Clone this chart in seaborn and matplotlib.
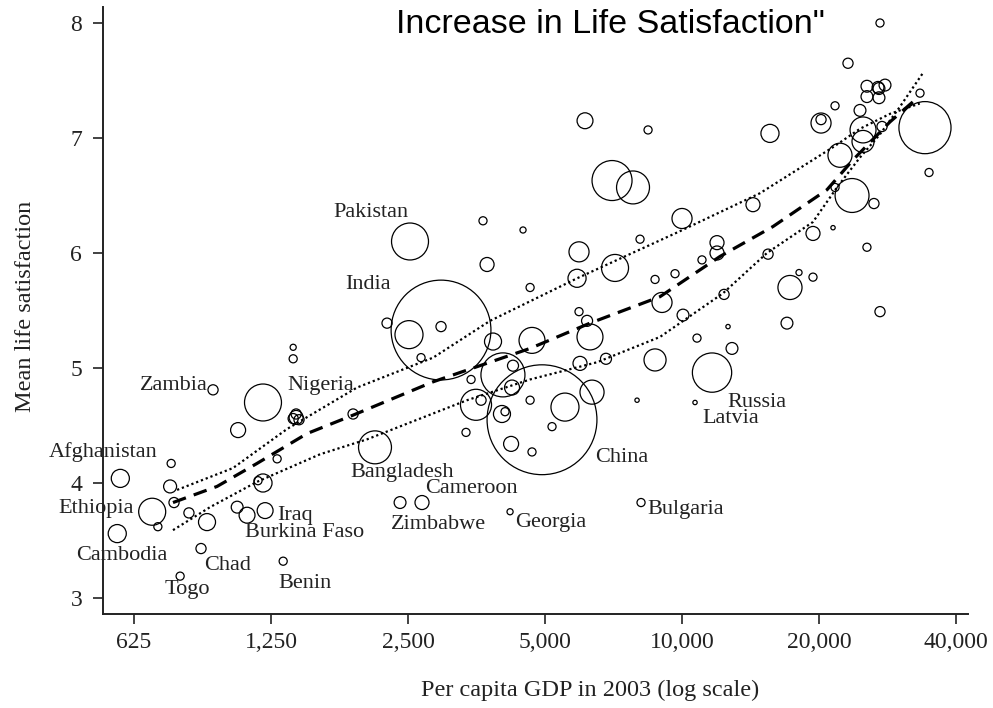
import matplotlib
matplotlib.use("Agg")
import matplotlib.pyplot as plt
import pandas as pd
import seaborn as sns

# 各国气泡：人均GDP(2003)、平均生活满意度、人口(百万)
gdp = [754, 583, 685, 705, 574, 750, 765, 825, 904, 877, 789, 1058, 1200, 932,
       1398, 1398, 1419, 1398, 1440, 1419, 1053, 1107, 1213, 1200, 1170, 1289,
       1329, 1893, 2115, 2401, 2683, 3352, 3617, 3439,
       2525, 3653, 4473, 3729, 5938, 4636, 2954, 2248, 2512, 2954, 2670, 3843,
       4041, 4252, 4231, 3526, 4021, 4084, 4636, 4924, 5531, 5180, 4211, 4681,
       6342, 7965, 4681, 6277, 6185, 5938, 5968, 6806, 7125, 5879, 8086, 8724,
       8724, 6121, 8421, 7018, 7804, 10000, 14320, 15606, 20206, 20206, 21690,
       25490, 26960, 27930, 25490, 27090, 27090, 24610, 24990, 24990, 27510,
       22240, 23640, 26410, 34190, 33340, 34900, 27230, 23160, 21470, 25490,
       19400, 15454, 11937, 11937, 11063, 9652, 9037, 10050, 12370, 17268, 18075,
       19400, 27230, 17006, 12621, 12877, 10787, 11640, 10680, 8127, 4189, 21690]
satisfaction = [4.17, 4.04, 3.75, 3.62, 3.56, 3.97, 3.83, 3.74, 3.66, 3.43, 3.19,
                4.46, 4.70, 4.81, 5.08, 5.18, 4.57, 4.56, 4.55, 4.60, 3.79, 3.72,
                3.76, 4.00, 4.02, 4.21, 3.32, 4.60, 4.31, 3.83, 3.83, 4.44, 4.72,
                4.90,
                6.10, 6.28, 6.20, 5.90, 6.01, 5.70, 5.33, 5.39, 5.29, 5.36, 5.09,
                5.23, 4.94, 5.02, 4.83, 4.68, 4.60, 4.62, 4.72, 4.55, 4.66, 4.49,
                4.34, 4.27, 4.79, 4.72, 5.24, 5.27, 5.41, 5.49, 5.04, 5.08, 5.87,
                5.78, 6.12, 5.77, 5.07, 7.15, 7.07, 6.63, 6.57, 6.30, 6.42, 7.04,
                7.13, 7.16, 7.28, 7.45, 7.44, 7.46, 7.36, 7.35, 7.43, 7.24, 7.07,
                6.97, 7.10, 6.85, 6.50, 6.43, 7.09, 7.39, 6.70, 8.00, 7.65, 6.22,
                6.05, 6.17, 5.99, 6.09, 6.00, 5.94, 5.82, 5.57, 5.46, 5.64, 5.70,
                5.83, 5.79, 5.49, 5.39, 5.36, 5.17, 5.26, 4.96, 4.70, 3.83, 3.75,
                6.57]
population = [7, 35, 78, 7, 35, 18, 11, 11, 31, 11, 7, 24, 146, 11,
              7, 4, 21, 11, 11, 11, 15, 27, 27, 35, 7, 7,
              7, 11, 116, 15, 21, 7, 11, 7,
              146, 7, 4, 21, 43, 7, 1065, 11, 84, 11, 7, 31,
              207, 13, 24, 103, 31, 7, 7, 1290, 84, 7, 24, 7,
              62, 2, 72, 72, 13, 7, 21, 13, 78, 35, 7, 7,
              52, 27, 7, 171, 116, 43, 21, 35, 43, 11, 7,
              15, 15, 15, 15, 15, 15, 15, 72, 52, 11,
              62, 123, 11, 290, 7, 7, 7, 11, 2, 7,
              21, 11, 21, 21, 7, 7, 43, 15, 11, 62, 4,
              7, 11, 15, 2, 15, 7, 165, 2, 7, 4, 7]

# 拟合曲线（虚线）与上下置信带（点线）
fit_gdp = [761, 951, 1164, 1500, 1893, 2838, 4633, 6277, 8945, 12120, 15845,
           20825, 23760, 28640, 32500]
fit_mean = [3.83, 3.97, 4.17, 4.43, 4.59, 4.88, 5.17, 5.39, 5.62, 5.97, 6.23,
            6.55, 6.81, 7.14, 7.33]
lower_gdp = [761, 918, 1164, 1602, 2033, 3370, 4633, 6506, 8945, 12306, 15370,
             19400, 21900, 24600, 27200, 30100, 33900]
lower_band = [3.59, 3.79, 4.01, 4.25, 4.38, 4.72, 4.90, 5.05, 5.27, 5.65, 6.00,
              6.27, 6.57, 6.83, 7.03, 7.27, 7.57]
upper_gdp = [777, 1031, 1356, 1931, 2838, 3786, 5880, 8945, 9900, 14840, 21470,
             24600, 28640, 33300]
upper_band = [3.94, 4.13, 4.47, 4.83, 5.09, 5.41, 5.78, 6.11, 6.19, 6.52, 6.92,
              7.08, 7.21, 7.30]

label_names = ["Pakistan", "India", "Zambia", "Nigeria", "Afghanistan", "Ethiopia",
               "Cambodia", "Chad", "Togo", "Iraq", "Burkina Faso", "Benin",
               "Bangladesh", "Cameroon", "Zimbabwe", "Georgia", "China",
               "Bulgaria", "Russia", "Latvia"]
x_ticks = [625, 1250, 2500, 5000, 10000, 20000, 40000]
x_tick_labels = ["625", "1,250", "2,500", "5,000", "10,000", "20,000", "40,000"]
y_ticks = [3, 4, 5, 6, 7, 8]

# 标签左端/中线位置（数据坐标）
label_xy = [(1711, 6.35), (1818, 5.73), (644, 4.85), (1356, 4.85), (406, 4.27),
            (427, 3.78), (466, 3.37), (891, 3.28), (731, 3.07), (1289, 3.72),
            (1096, 3.57), (1295, 3.13), (1864, 4.09), (2724, 3.95), (2294, 3.64),
            (4296, 3.66), (6439, 4.22), (8380, 3.77), (12555, 4.70), (11063, 4.56)]

sns.set_style("ticks")
plt.rcParams["font.family"] = ["Liberation Serif", "DejaVu Serif"]

fig = plt.figure(figsize=(9.93, 7.08), dpi=100)
ax = fig.add_axes([0.1037, 0.1328, 0.8711, 0.8573])

bubbles = pd.DataFrame({"gdp": gdp, "sat": satisfaction, "pop": population})
sns.scatterplot(data=bubbles, x="gdp", y="sat", size="pop",
                sizes=(0, 1300 * 4.85), size_norm=(0, 1300), legend=False,
                facecolors="none", edgecolors="black", linewidth=0.9, ax=ax)

sns.lineplot(x=fit_gdp, y=fit_mean, estimator=None, color="black", lw=2.3,
             linestyle=(0, (4.3, 2.6)), ax=ax)
sns.lineplot(x=lower_gdp, y=lower_band, estimator=None, color="black", lw=1.6,
             linestyle=(0, (1, 1.3)), ax=ax)
sns.lineplot(x=upper_gdp, y=upper_band, estimator=None, color="black", lw=1.6,
             linestyle=(0, (1, 1.3)), ax=ax)

for name, (lx, ly) in zip(label_names, label_xy):
    ax.text(lx, ly, name, fontsize=16, ha="left", va="center", color="#222222")

ax.set_xscale("log")
ax.set_xlim(534, 42500)
ax.set_ylim(2.861, 8.139)
ax.set_xticks(x_ticks)
ax.set_xticklabels(x_tick_labels)
ax.minorticks_off()
ax.set_yticks(y_ticks)
ax.tick_params(axis="both", direction="out", length=7, width=1.2, labelsize=17,
               colors="#222222", pad=6)
ax.tick_params(axis="y", pad=8)
for side in ["top", "right"]:
    ax.spines[side].set_visible(False)
for side in ["left", "bottom"]:
    ax.spines[side].set_linewidth(1.4)
    ax.spines[side].set_color("#222222")

ax.set_xlabel("Per capita GDP in 2003 (log scale)", fontsize=17.5, color="#222222")
ax.xaxis.set_label_coords(0.563, -0.108)
ax.set_ylabel("Mean life satisfaction", fontsize=17.5, color="#222222")
ax.yaxis.set_label_coords(-0.077, 0.507)

fig.text(396 / 993, 1 - 33 / 708, "Increase in Life Satisfaction\"",
         fontsize=24.5, family=["Liberation Sans", "DejaVu Sans"],
         ha="left", va="baseline", color="black")

fig.savefig("out.png", dpi=100)
